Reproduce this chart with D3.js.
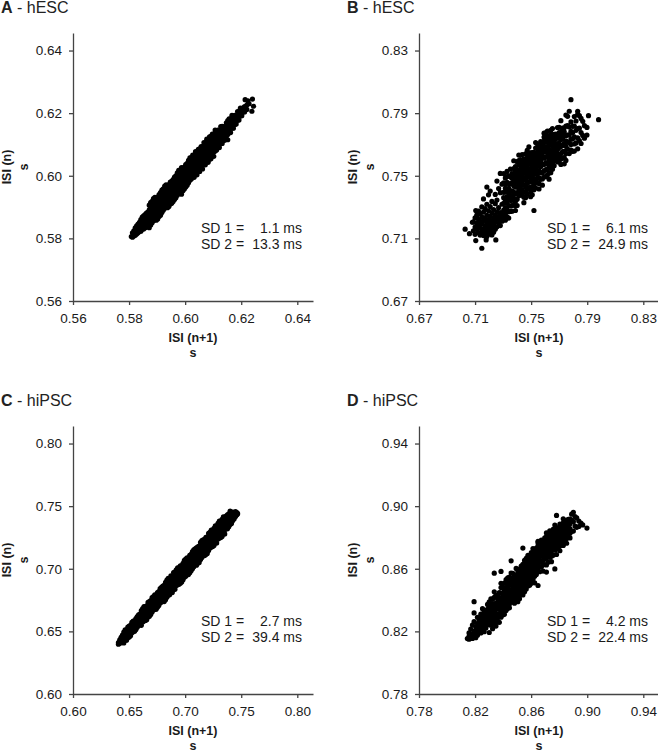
<!DOCTYPE html>
<html>
<head>
<meta charset="utf-8">
<script src="https://cdn.jsdelivr.net/npm/d3@7"></script>
<style>
  body { margin: 0; background: #fff; }
  svg { display: block; font-family: "Liberation Sans", Arial, sans-serif; }
</style>
</head>
<body>
<div id="chart"></div>
<script>
// Poincare plots.
// Each row: ISI(n+1) in s, then the ISI(n) values plotted at that ISI(n+1).

const ticksA = [0.56, 0.58, 0.60, 0.62, 0.64];
const ticksB = [0.67, 0.71, 0.75, 0.79, 0.83];
const ticksC = [0.60, 0.65, 0.70, 0.75, 0.80];
const ticksD = [0.78, 0.82, 0.86, 0.90, 0.94];

const sdA = ["1.1", "13.3"];
const sdB = ["6.1", "24.9"];
const sdC = ["2.7", "39.4"];
const sdD = ["4.2", "22.4"];

const rowsA = [
  [0.5808,0.5806],[0.5812,0.5818,0.5804],[0.5817,0.5808,0.5824,0.5815],[0.5822,0.5810,0.5822,0.5834],
  [0.5827,0.5814,0.5828,0.5840,0.5819],[0.5832,0.5818,0.5831,0.5846,0.5825],[0.5837,0.5822,0.5836,0.5851,0.5843],
  [0.5842,0.5823,0.5835,0.5848,0.5860],[0.5847,0.5829,0.5843,0.5856,0.5868,0.5838],[0.5852,0.5830,0.5845,0.5858,0.5872],
  [0.5857,0.5834,0.5849,0.5862,0.5876,0.5842],[0.5862,0.5836,0.5852,0.5866,0.5881,0.5859],[0.5867,0.5838,0.5853,0.5869,0.5884,0.5861],
  [0.5872,0.5834,0.5850,0.5864,0.5878,0.5891,0.5906],[0.5877,0.5843,0.5858,0.5873,0.5887,0.5901,0.5914],
  [0.5882,0.5850,0.5865,0.5879,0.5891,0.5904,0.5918],[0.5887,0.5856,0.5872,0.5886,0.5900,0.5914,0.5927],
  [0.5892,0.5864,0.5879,0.5893,0.5907,0.5921,0.5931],[0.5897,0.5858,0.5876,0.5891,0.5905,0.5922,0.5928],
  [0.5902,0.5862,0.5876,0.5890,0.5904,0.5918,0.5932],[0.5907,0.5870,0.5883,0.5897,0.5911,0.5927,0.5940],
  [0.5912,0.5874,0.5890,0.5904,0.5918,0.5931,0.5946],[0.5917,0.5883,0.5898,0.5913,0.5927,0.5941,0.5954],
  [0.5922,0.5890,0.5905,0.5919,0.5931,0.5944,0.5958],[0.5927,0.5896,0.5912,0.5926,0.5940,0.5954,0.5967],
  [0.5932,0.5904,0.5919,0.5933,0.5947,0.5961,0.5971],[0.5937,0.5898,0.5916,0.5931,0.5945,0.5962,0.5968],
  [0.5942,0.5902,0.5916,0.5930,0.5944,0.5958,0.5972],[0.5947,0.5910,0.5923,0.5937,0.5951,0.5967,0.5980],
  [0.5952,0.5912,0.5926,0.5940,0.5954,0.5968,0.5982],[0.5957,0.5918,0.5936,0.5951,0.5965,0.5982,0.5988],
  [0.5962,0.5924,0.5940,0.5954,0.5968,0.5981,0.5996],[0.5967,0.5930,0.5943,0.5957,0.5971,0.5987,0.6000],
  [0.5972,0.5938,0.5953,0.5968,0.5982,0.5996,0.6009],[0.5977,0.5946,0.5962,0.5976,0.5990,0.6004,0.6017],
  [0.5982,0.5950,0.5965,0.5979,0.5991,0.6004,0.6018],[0.5987,0.5959,0.5974,0.5988,0.6002,0.6016,0.6026,0.5941],
  [0.5992,0.5952,0.5966,0.5980,0.5994,0.6008,0.6022],[0.5997,0.5958,0.5976,0.5991,0.6005,0.6022,0.6028],
  [0.6002,0.5964,0.5980,0.5994,0.6008,0.6021,0.6036],[0.6007,0.5970,0.5983,0.5997,0.6011,0.6027,0.6040],
  [0.6012,0.5978,0.5993,0.6008,0.6022,0.6036,0.6049],[0.6017,0.5986,0.6002,0.6016,0.6030,0.6044,0.6057],
  [0.6022,0.5990,0.6005,0.6019,0.6031,0.6044,0.6058],[0.6027,0.5999,0.6014,0.6028,0.6042,0.6056,0.6066],
  [0.6032,0.5995,0.6008,0.6022,0.6036,0.6052,0.6065],[0.6037,0.6006,0.6022,0.6036,0.6050,0.6064,0.6077],
  [0.6042,0.6003,0.6021,0.6036,0.6050,0.6067,0.6073],[0.6047,0.6013,0.6028,0.6043,0.6057,0.6071,0.6084],
  [0.6052,0.6014,0.6030,0.6044,0.6058,0.6071,0.6086],[0.6057,0.6025,0.6040,0.6054,0.6066,0.6079,0.6093],
  [0.6062,0.6022,0.6036,0.6050,0.6064,0.6078,0.6092],[0.6067,0.6039,0.6054,0.6068,0.6082,0.6096,0.6106],
  [0.6072,0.6035,0.6048,0.6062,0.6076,0.6092,0.6105],[0.6077,0.6046,0.6062,0.6076,0.6090,0.6104,0.6117],
  [0.6082,0.6043,0.6061,0.6076,0.6090,0.6107,0.6113],[0.6087,0.6053,0.6068,0.6083,0.6097,0.6111,0.6124],
  [0.6092,0.6054,0.6070,0.6084,0.6098,0.6111,0.6126],[0.6097,0.6065,0.6080,0.6094,0.6106,0.6119,0.6133],
  [0.6102,0.6062,0.6076,0.6090,0.6104,0.6118,0.6132],[0.6107,0.6079,0.6094,0.6108,0.6122,0.6136,0.6146],
  [0.6112,0.6082,0.6096,0.6110,0.6124,0.6138],[0.6117,0.6090,0.6105,0.6118,0.6131,0.6146],
  [0.6122,0.6090,0.6104,0.6117,0.6131,0.6145],[0.6127,0.6102,0.6116,0.6130,0.6144,0.6157],
  [0.6132,0.6103,0.6117,0.6132,0.6145,0.6158],[0.6137,0.6113,0.6128,0.6142,0.6156],
  [0.6142,0.6114,0.6128,0.6143,0.6157],[0.6147,0.6126,0.6140,0.6155,0.6169],
  [0.6152,0.6115,0.6132,0.6147,0.6162,0.6176],[0.6157,0.6139,0.6154,0.6169,0.6182],
  [0.6162,0.6138,0.6153,0.6168,0.6182],[0.6167,0.6152,0.6167,0.6181,0.6193],
  [0.6172,0.6152,0.6166,0.6181],[0.6177,0.6164,0.6179,0.6193],[0.6182,0.6165,0.6179,0.6193],
  [0.6187,0.6177,0.6192,0.6205],[0.6192,0.6178,0.6192,0.6204],[0.6197,0.6191,0.6206,0.6216],
  [0.6202,0.6192,0.6205],[0.6207,0.6204,0.6217],[0.6212,0.6204,0.6221],[0.6214,0.6243],
  [0.6220,0.6226,0.6212],[0.6224,0.6239],[0.6228,0.6230],[0.6238,0.6206],[0.6240,0.6245],[0.6244,0.6222]
];

const rowsB = [
  // lower-left lobe
  [0.7029,0.7159],[0.7060,0.7130],[0.7081,0.7203],[0.7105,0.7086,0.7278],[0.7148,0.7037],[0.7179,0.7090],[0.7248,0.7090],
  [0.7088,0.7148,0.7205],[0.7100,0.7172,0.7231,0.7126],[0.7112,0.7158,0.7196,0.7248],
  [0.7124,0.7137,0.7183,0.7222,0.7275],[0.7136,0.7121,0.7166,0.7209,0.7257],[0.7148,0.7143,0.7191,0.7238,0.7301],
  [0.7160,0.7118,0.7160,0.7214,0.7268,0.7352],[0.7172,0.7134,0.7181,0.7229,0.7290],
  [0.7184,0.7112,0.7154,0.7201,0.7247,0.7318,0.7428],[0.7196,0.7127,0.7173,0.7219,0.7276,0.7378],
  [0.7208,0.7145,0.7193,0.7240,0.7303,0.7402],[0.7220,0.7122,0.7168,0.7212,0.7262,0.7336],
  [0.7232,0.7139,0.7186,0.7233,0.7284],[0.7244,0.7158,0.7205,0.7251,0.7322,0.7381],
  [0.7256,0.7174,0.7224,0.7270,0.7345,0.7466],[0.7268,0.7196,0.7241,0.7296,0.7418],
  [0.7280,0.7182,0.7227,0.7265,0.7392,0.7515],[0.7292,0.7210,0.7253,0.7318,0.7446],
  // middle
  [0.7304,0.7234,0.7324,0.7394,0.7454,0.7514,0.7280,0.7360],
  [0.7316,0.7216,0.7296,0.7396,0.7446,0.7486,0.7256,0.7346,0.7420],
  [0.7328,0.7238,0.7328,0.7398,0.7458,0.7528,0.7283,0.7365,0.7495],
  [0.7340,0.7230,0.7310,0.7390,0.7450,0.7500,0.7270,0.7350,0.7420],
  [0.7352,0.7272,0.7342,0.7402,0.7492,0.7542,0.7307,0.7372,0.7447],
  [0.7364,0.7344,0.7404,0.7454,0.7514,0.7274,0.7310,0.7374,0.7484],
  [0.7376,0.7316,0.7396,0.7476,0.7546,0.7596,0.7356,0.7436,0.7511],
  [0.7388,0.7338,0.7428,0.7488,0.7558,0.7278,0.7308,0.7383,0.7458,0.7523],
  [0.7400,0.7350,0.7430,0.7470,0.7540,0.7590,0.7310,0.7390,0.7505],
  [0.7412,0.7372,0.7442,0.7522,0.7572,0.7632,0.7407,0.7482,0.7597],
  [0.7424,0.7384,0.7434,0.7494,0.7544,0.7604,0.7409,0.7464,0.7519,0.7574],
  [0.7436,0.7376,0.7446,0.7496,0.7556,0.7636,0.7411,0.7471,0.7526,0.7596],
  [0.7448,0.7398,0.7488,0.7548,0.7608,0.7328,0.7363,0.7443,0.7518,0.7578],
  [0.7460,0.7430,0.7520,0.7570,0.7640,0.7360,0.7395,0.7475,0.7545,0.7605],
  [0.7472,0.7382,0.7452,0.7552,0.7632,0.7662,0.7417,0.7502,0.7592],
  [0.7484,0.7424,0.7494,0.7574,0.7624,0.7684,0.7459,0.7534,0.7599],
  [0.7496,0.7426,0.7516,0.7576,0.7646,0.7366,0.7396,0.7471,0.7546,0.7611],
  [0.7508,0.7378,0.7458,0.7538,0.7598,0.7648,0.7418,0.7498,0.7568,0.7623],
  [0.7520,0.7480,0.7540,0.7590,0.7650,0.7410,0.7278,0.7445,0.7510,0.7565,0.7620],
  [0.7532,0.7422,0.7512,0.7582,0.7642,0.7712,0.7467,0.7547,0.7612,0.7677],
  [0.7544,0.7484,0.7534,0.7594,0.7644,0.7704,0.7454,0.7509,0.7564,0.7619,0.7674],
  [0.7556,0.7486,0.7576,0.7636,0.7696,0.7416,0.7451,0.7531,0.7606,0.7666],
  [0.7568,0.7478,0.7558,0.7598,0.7668,0.7718,0.7518,0.7578,0.7633,0.7693],
  [0.7580,0.7440,0.7520,0.7620,0.7670,0.7710,0.7480,0.7570,0.7645,0.7690],
  [0.7592,0.7492,0.7572,0.7652,0.7722,0.7772,0.7532,0.7612,0.7687,0.7747],
  [0.7604,0.7494,0.7584,0.7654,0.7714,0.7774,0.7539,0.7619,0.7684,0.7744],
  [0.7616,0.7506,0.7576,0.7676,0.7756,0.7786,0.7541,0.7626,0.7716],
  [0.7628,0.7478,0.7558,0.7638,0.7698,0.7748,0.7518,0.7598,0.7668,0.7723],
  [0.7640,0.7520,0.7590,0.7650,0.7740,0.7790,0.7555,0.7620,0.7695,0.7765],
  [0.7652,0.7542,0.7612,0.7662,0.7722,0.7802,0.7577,0.7637,0.7692,0.7762],
  // upper
  [0.7664,0.7564,0.7634,0.7714,0.7764,0.7599,0.7674,0.7739],
  [0.7676,0.7596,0.7656,0.7706,0.7766,0.7626,0.7681,0.7736],
  [0.7688,0.7588,0.7638,0.7698,0.7808,0.7613,0.7668,0.7753],
  [0.7700,0.7590,0.7680,0.7740,0.7810,0.7635,0.7710,0.7775],
  [0.7712,0.7572,0.7642,0.7732,0.7782,0.7852,0.7607,0.7687,0.7757],
  [0.7724,0.7614,0.7694,0.7734,0.7804,0.7654,0.7769],
  [0.7736,0.7576,0.7656,0.7756,0.7806,0.7616,0.7706,0.7781],
  [0.7748,0.7598,0.7688,0.7758,0.7818,0.7888,0.7643,0.7723],
  [0.7760,0.7670,0.7760,0.7820,0.7880,0.7715],
  [0.7772,0.7642,0.7712,0.7812,0.7912,0.7762],
  [0.7784,0.7664,0.7734,0.7784,0.7844,0.7986,0.7699],
  [0.7796,0.7656,0.7736,0.7816,0.7776],
  [0.7808,0.7658,0.7748,0.7818,0.7878,0.7703],
  [0.7820,0.7710,0.7790,0.7850],
  [0.7832,0.7672,0.7742,0.7802,0.7892,0.7912],[0.7844,0.7724,0.7804,0.7884],
  [0.7856,0.7706,0.7776,0.7866],[0.7868,0.7758,0.7848],[0.7880,0.7740,0.7820],
  [0.7898,0.7809,0.7760],[0.7909,0.7884],[0.7981,0.7858]
];

const rowsC = [
  [0.6405,0.6410,0.6398],[0.6417,0.6405,0.6420,0.6432],[0.6429,0.6410,0.6425,0.6441,0.6452],
  [0.6441,0.6412,0.6433,0.6452,0.6470],[0.6453,0.6408,0.6438,0.6468,0.6495],[0.6465,0.6430,0.6460,0.6490,0.6513],
  [0.6477,0.6429,0.6457,0.6485,0.6513],[0.6489,0.6449,0.6479,0.6509,0.6535],[0.6501,0.6456,0.6486,0.6516,0.6543],
  [0.6513,0.6465,0.6493,0.6521,0.6549],[0.6525,0.6490,0.6520,0.6550,0.6573],[0.6537,0.6497,0.6527,0.6557,0.6583],
  [0.6549,0.6501,0.6529,0.6557,0.6585],[0.6561,0.6516,0.6546,0.6576,0.6603],[0.6573,0.6533,0.6563,0.6593,0.6619],
  [0.6585,0.6550,0.6580,0.6610,0.6633],[0.6597,0.6552,0.6582,0.6612,0.6639],
  [0.6609,0.6548,0.6577,0.6605,0.6635,0.6665],[0.6621,0.6574,0.6604,0.6634,0.6662,0.6681],
  [0.6633,0.6582,0.6613,0.6643,0.6671,0.6697],[0.6645,0.6587,0.6617,0.6647,0.6676,0.6698],
  [0.6657,0.6593,0.6621,0.6648,0.6676,0.6704],[0.6669,0.6615,0.6645,0.6674,0.6703,0.6731],
  [0.6681,0.6620,0.6649,0.6677,0.6707,0.6737],[0.6693,0.6635,0.6665,0.6695,0.6724,0.6746],
  [0.6705,0.6654,0.6685,0.6715,0.6743,0.6769],[0.6717,0.6670,0.6700,0.6730,0.6758,0.6777],
  [0.6729,0.6675,0.6705,0.6734,0.6763,0.6791],[0.6741,0.6677,0.6705,0.6732,0.6760,0.6788],
  [0.6753,0.6692,0.6721,0.6749,0.6779,0.6809],[0.6765,0.6707,0.6737,0.6767,0.6796,0.6818],
  [0.6777,0.6726,0.6757,0.6787,0.6815,0.6841],[0.6789,0.6735,0.6765,0.6794,0.6823,0.6851],
  [0.6801,0.6754,0.6784,0.6814,0.6842,0.6861],[0.6813,0.6738,0.6771,0.6803,0.6835,0.6868],
  [0.6825,0.6753,0.6787,0.6820,0.6855,0.6891],[0.6837,0.6773,0.6809,0.6843,0.6877,0.6910],
  [0.6849,0.6789,0.6825,0.6861,0.6894,0.6924],[0.6861,0.6793,0.6828,0.6863,0.6897,0.6923],
  [0.6873,0.6818,0.6853,0.6888,0.6921,0.6943],[0.6885,0.6810,0.6843,0.6875,0.6907,0.6940],
  [0.6897,0.6833,0.6869,0.6903,0.6937,0.6970],[0.6909,0.6837,0.6871,0.6904,0.6939,0.6975],
  [0.6921,0.6866,0.6901,0.6936,0.6969,0.6991],[0.6933,0.6873,0.6909,0.6945,0.6978,0.7008],
  [0.6945,0.6877,0.6912,0.6947,0.6981,0.7007],[0.6957,0.6885,0.6919,0.6952,0.6987,0.7023],
  [0.6969,0.6894,0.6927,0.6959,0.6991,0.7024],[0.6981,0.6913,0.6948,0.6983,0.7017,0.7043],
  [0.6993,0.6933,0.6969,0.7005,0.7038,0.7068],[0.7005,0.6941,0.6977,0.7011,0.7045,0.7078],
  [0.7017,0.6962,0.6997,0.7032,0.7065,0.7087],[0.7029,0.6954,0.6987,0.7019,0.7051,0.7084],
  [0.7041,0.6969,0.7003,0.7036,0.7071,0.7107],[0.7053,0.6985,0.7020,0.7055,0.7089,0.7115],
  [0.7065,0.7001,0.7037,0.7071,0.7105,0.7138],[0.7077,0.7017,0.7053,0.7089,0.7122,0.7152],
  [0.7089,0.7034,0.7069,0.7104,0.7137,0.7159],[0.7101,0.7029,0.7063,0.7096,0.7131,0.7167],
  [0.7113,0.7045,0.7080,0.7115,0.7149,0.7175],[0.7125,0.7050,0.7083,0.7115,0.7147,0.7180],
  [0.7137,0.7073,0.7109,0.7143,0.7177,0.7210],[0.7149,0.7089,0.7125,0.7161,0.7194,0.7224],
  [0.7161,0.7106,0.7141,0.7176,0.7209,0.7231],[0.7173,0.7105,0.7140,0.7175,0.7209,0.7235],
  [0.7185,0.7113,0.7147,0.7180,0.7215,0.7251],[0.7197,0.7122,0.7155,0.7187,0.7219,0.7252],
  [0.7209,0.7145,0.7181,0.7215,0.7249,0.7282],[0.7221,0.7166,0.7201,0.7236,0.7269,0.7291],
  [0.7233,0.7173,0.7209,0.7245,0.7278,0.7308],[0.7245,0.7177,0.7212,0.7247,0.7281,0.7307],
  [0.7257,0.7185,0.7219,0.7252,0.7287,0.7323],[0.7269,0.7205,0.7241,0.7275,0.7309,0.7342],
  [0.7281,0.7206,0.7239,0.7271,0.7303,0.7336],[0.7293,0.7238,0.7273,0.7308,0.7341,0.7363],
  [0.7305,0.7245,0.7281,0.7317,0.7350,0.7380],[0.7317,0.7249,0.7284,0.7319,0.7353,0.7379],
  [0.7329,0.7257,0.7291,0.7324,0.7359,0.7395],[0.7341,0.7277,0.7313,0.7347,0.7381,0.7414],
  [0.7353,0.7278,0.7311,0.7343,0.7375,0.7408],[0.7365,0.7321,0.7349,0.7377,0.7403,0.7421],
  [0.7377,0.7319,0.7347,0.7373,0.7401,0.7430],[0.7389,0.7335,0.7363,0.7391,0.7418,0.7439],
  [0.7401,0.7353,0.7382,0.7411,0.7437,0.7461],[0.7413,0.7362,0.7391,0.7418,0.7445],
  [0.7425,0.7385,0.7410,0.7436,0.7452],[0.7437,0.7400,0.7425,0.7448],[0.7449,0.7418,0.7440,0.7457],
  [0.7461,0.7432,0.7448],[0.7468,0.7440]
];

const rowsD = [
  // lower-left
  [0.8145,0.8154],[0.8157,0.8168,0.8190,0.8150],[0.8169,0.8162,0.8215,0.8185],
  [0.8181,0.8178,0.8240,0.8155],[0.8193,0.8200,0.8262,0.8170,0.8318,0.8390],
  [0.8205,0.8188,0.8228,0.8160],[0.8217,0.8212,0.8250,0.8175,0.8290],
  [0.8229,0.8198,0.8238,0.8270,0.8220,0.8255],[0.8241,0.8222,0.8262,0.8190,0.8310,0.8242,0.8285],
  [0.8253,0.8245,0.8285,0.8210,0.8345,0.8228,0.8265,0.8305],[0.8265,0.8232,0.8270,0.8305,0.8198,0.8250,0.8288,0.8330],
  [0.8277,0.8258,0.8295,0.8222,0.8335,0.8240,0.8276,0.8315],[0.8289,0.8245,0.8282,0.8318,0.8372,0.8265,0.8300,0.8340],
  // core
  [0.8301,0.8242,0.8305,0.8347,0.8389,0.8193,0.8275,0.8326],
  [0.8313,0.8240,0.8296,0.8324,0.8373,0.8408,0.8268,0.8350],
  [0.8325,0.8217,0.8273,0.8343,0.8378,0.8406,0.8245,0.8310],
  [0.8337,0.8257,0.8313,0.8369,0.8418,0.8453,0.8572,0.8285,0.8340],
  [0.8349,0.8276,0.8339,0.8381,0.8430,0.8234,0.8310,0.8360],
  [0.8361,0.8309,0.8351,0.8386,0.8428,0.8260,0.8285,0.8408],
  [0.8373,0.8258,0.8314,0.8370,0.8412,0.8447,0.8342,0.8392],
  [0.8385,0.8291,0.8340,0.8382,0.8445,0.8480,0.8507,0.8583,0.8316,0.8362],
  [0.8397,0.8331,0.8366,0.8408,0.8443,0.8485,0.8305,0.8388,0.8425],
  [0.8409,0.8309,0.8369,0.8419,0.8464,0.8509,0.8340,0.8395,0.8440],
  [0.8421,0.8334,0.8383,0.8453,0.8509,0.8530,0.8358,0.8418,0.8480],
  [0.8433,0.8346,0.8409,0.8458,0.8500,0.8542,0.8378,0.8433,0.8480],
  [0.8445,0.8400,0.8463,0.8498,0.8547,0.8351,0.8375,0.8430,0.8522],
  [0.8457,0.8391,0.8440,0.8496,0.8531,0.8573,0.8651,0.8416,0.8466,0.8510],
  [0.8469,0.8389,0.8438,0.8473,0.8515,0.8571,0.8412,0.8455,0.8493,0.8540],
  [0.8481,0.8429,0.8471,0.8506,0.8548,0.8380,0.8405,0.8450,0.8490,0.8527],
  [0.8493,0.8406,0.8469,0.8518,0.8560,0.8602,0.8438,0.8493,0.8540],
  [0.8505,0.8390,0.8446,0.8502,0.8544,0.8579,0.8420,0.8474,0.8523],
  [0.8517,0.8409,0.8465,0.8535,0.8570,0.8598,0.8437,0.8500,0.8552],
  [0.8529,0.8463,0.8498,0.8540,0.8575,0.8617,0.8440,0.8480,0.8520,0.8558],
  [0.8541,0.8482,0.8545,0.8587,0.8629,0.8433,0.8732,0.8460,0.8512,0.8565,0.8608],
  [0.8553,0.8453,0.8513,0.8563,0.8608,0.8653,0.8483,0.8538,0.8585,0.8630],
  [0.8565,0.8520,0.8583,0.8618,0.8667,0.8471,0.8495,0.8550,0.8600,0.8642],
  [0.8577,0.8490,0.8539,0.8609,0.8665,0.8686,0.8515,0.8575,0.8637],
  [0.8589,0.8495,0.8544,0.8586,0.8649,0.8684,0.8520,0.8565,0.8618],
  [0.8601,0.8521,0.8570,0.8605,0.8647,0.8703,0.8507,0.8546,0.8588,0.8626,0.8675],
  [0.8613,0.8533,0.8589,0.8645,0.8694,0.8729,0.8560,0.8617,0.8670],
  [0.8625,0.8552,0.8615,0.8657,0.8706,0.8510,0.8580,0.8636,0.8682],
  [0.8637,0.8564,0.8620,0.8648,0.8697,0.8732,0.8592,0.8634,0.8670,0.8712],
  [0.8649,0.8583,0.8632,0.8688,0.8723,0.8765,0.8493,0.8775,0.8607,0.8660,0.8744],
  // upper-right
  [0.8661,0.8581,0.8641,0.8701,0.8751,0.8611,0.8676,0.8726],
  [0.8673,0.8613,0.8683,0.8733,0.8783,0.8648,0.8708,0.8758],
  [0.8685,0.8585,0.8655,0.8715,0.8765,0.8625,0.8690,0.8740],
  [0.8697,0.8627,0.8697,0.8747,0.8797,0.8662,0.8722,0.8772],
  [0.8709,0.8579,0.8669,0.8729,0.8779,0.8829,0.8624,0.8699,0.8754,0.8804],
  [0.8721,0.8641,0.8711,0.8771,0.8676,0.8741,0.8796],
  [0.8733,0.8673,0.8733,0.8793,0.8843,0.8703,0.8763,0.8818],
  [0.8745,0.8645,0.8715,0.8775,0.8825,0.8680,0.8745,0.8800],
  [0.8757,0.8687,0.8767,0.8827,0.8727,0.8797,0.8852],
  [0.8769,0.8599,0.8719,0.8769,0.8819,0.8879,0.8744,0.8794,0.8849],
  [0.8781,0.8691,0.8761,0.8821,0.8941,0.8726,0.8791,0.8851],
  [0.8793,0.8733,0.8803,0.8863,0.8768,0.8833],
  [0.8805,0.8715,0.8775,0.8835,0.8885,0.8745,0.8805,0.8860],
  [0.8817,0.8757,0.8827,0.8877,0.8792,0.8852],
  [0.8829,0.8749,0.8809,0.8869,0.8919,0.8779,0.8839,0.8894],
  [0.8841,0.8791,0.8851,0.8901,0.8821,0.8876],
  [0.8853,0.8763,0.8823,0.8883,0.8793,0.8853,0.8910],
  [0.8865,0.8805,0.8865,0.8915,0.8835,0.8890],
  [0.8877,0.8797,0.8857,0.8917,0.8827,0.8887],
  [0.8889,0.8839,0.8909,0.8949],[0.8901,0.8841,0.8901,0.8961],[0.8913,0.8873,0.8933],
  [0.8925,0.8865,0.8925],[0.8940,0.8905,0.8870],[0.8955,0.8891],[0.8968,0.8880],[0.8998,0.8860]
];

const panels = [
  { letter: "A", name: "hESC",  ticks: ticksA, rows: rowsA, sd: sdA, left: 73,  top: 33 },
  { letter: "B", name: "hESC",  ticks: ticksB, rows: rowsB, sd: sdB, left: 419, top: 33 },
  { letter: "C", name: "hiPSC", ticks: ticksC, rows: rowsC, sd: sdC, left: 73,  top: 426 },
  { letter: "D", name: "hiPSC", ticks: ticksD, rows: rowsD, sd: sdD, left: 419, top: 426 }
];

const width = 658, height = 754;
const plotW = 240, plotH = 268;
const textColor = "#1a1a1a";
const axisColor = "#444";

const svg = d3.select("#chart")
  .append("svg")
  .attr("width", width)
  .attr("height", height);

panels.forEach(p => {
  const points = p.rows.flatMap(([xv, ...ys]) => ys.map(yv => [xv, yv]));

  const step = p.ticks[1] - p.ticks[0];
  // axes run a little past the last tick
  const domain = [p.ticks[0], p.ticks[p.ticks.length - 1] + 0.28 * step];

  const x = d3.scaleLinear().domain(domain).range([0, plotW]);
  const y = d3.scaleLinear().domain(domain).range([plotH, 0]);

  const g = svg.append("g")
    .attr("transform", `translate(${p.left},${p.top})`);

  // points
  g.append("g")
    .selectAll("circle")
    .data(points)
    .join("circle")
    .attr("cx", d => x(d[0]))
    .attr("cy", d => y(d[1]))
    .attr("r", 2.6)
    .attr("fill", "#000");

  // axes
  const xAxis = g.append("g")
    .attr("transform", `translate(0,${plotH})`)
    .call(d3.axisBottom(x).tickValues(p.ticks).tickFormat(d3.format(".2f"))
      .tickSize(4).tickSizeOuter(0).tickPadding(8));

  const yAxis = g.append("g")
    .call(d3.axisLeft(y).tickValues(p.ticks).tickFormat(d3.format(".2f"))
      .tickSize(4).tickSizeOuter(0).tickPadding(7));

  [xAxis, yAxis].forEach(a => {
    a.selectAll("path, line").attr("stroke", axisColor).attr("stroke-width", 1.3);
    a.selectAll("text")
      .attr("fill", textColor)
      .style("font-size", "13.5px")
      .style("font-family", "'Liberation Sans', Arial, sans-serif");
  });

  // axis titles
  const yLab = g.append("g")
    .attr("transform", `translate(-66,${plotH / 2}) rotate(-90)`);
  yLab.append("text")
    .attr("text-anchor", "middle")
    .attr("dy", "0.35em")
    .attr("fill", textColor)
    .style("font-size", "12.5px")
    .style("font-weight", "bold")
    .text("ISI (n)");
  yLab.append("text")
    .attr("text-anchor", "middle")
    .attr("y", 17)
    .attr("dy", "0.35em")
    .attr("fill", textColor)
    .style("font-size", "12.5px")
    .style("font-weight", "bold")
    .text("s");

  g.append("text")
    .attr("x", plotW / 2)
    .attr("y", plotH + 37)
    .attr("dy", "0.35em")
    .attr("text-anchor", "middle")
    .attr("fill", textColor)
    .style("font-size", "12.5px")
    .style("font-weight", "bold")
    .text("ISI (n+1)");
  g.append("text")
    .attr("x", plotW / 2)
    .attr("y", plotH + 52)
    .attr("dy", "0.35em")
    .attr("text-anchor", "middle")
    .attr("fill", textColor)
    .style("font-size", "12.5px")
    .style("font-weight", "bold")
    .text("s");

  // panel title
  const title = g.append("text")
    .attr("x", -72)
    .attr("y", -20)
    .attr("fill", "#222")
    .style("font-size", "16px");
  title.append("tspan").style("font-weight", "bold").text(p.letter);
  title.append("tspan").text(" - " + p.name);

  // SD annotation
  p.sd.forEach((v, i) => {
    const yy = plotH - 68 + i * 16;
    g.append("text")
      .attr("x", 128).attr("y", yy)
      .attr("fill", textColor)
      .style("font-size", "14px")
      .text(`SD ${i + 1} =`);
    g.append("text")
      .attr("x", 229).attr("y", yy)
      .attr("text-anchor", "end")
      .attr("fill", textColor)
      .style("font-size", "14px")
      .text(`${v} ms`);
  });
});
</script>
</body>
</html>
